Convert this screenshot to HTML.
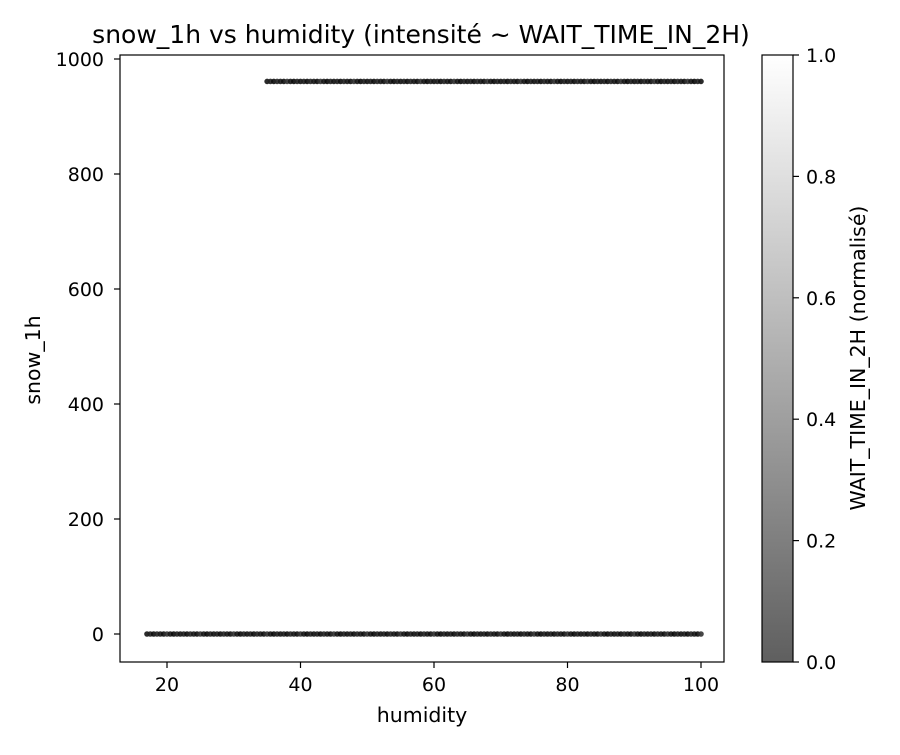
<!DOCTYPE html>
<html><head><meta charset="utf-8"><style>
body{margin:0;background:#fff;}
svg text{font-family:"DejaVu Sans","Liberation Sans",sans-serif;fill:#000;}
</style></head><body>
<svg id="chart" width="900" height="750" xmlns="http://www.w3.org/2000/svg">
<defs><linearGradient id="cb" x1="0" y1="1" x2="0" y2="0"><stop offset="0" stop-color="#5f5f5f"/><stop offset="1" stop-color="#ffffff"/></linearGradient></defs>
<rect width="900" height="750" fill="#fff"/>
<text x="421" y="43" font-size="25" text-anchor="middle">snow_1h vs humidity (intensité ~ WAIT_TIME_IN_2H)</text>
<g id="marks"></g>
<g id="axes"></g>
<rect x="120" y="55" width="604" height="607" fill="none" stroke="#000" stroke-width="1.2"/>
<text x="422" y="722" font-size="20.5" text-anchor="middle">humidity</text>
<text transform="translate(40,360) rotate(-90)" font-size="20.5" text-anchor="middle">snow_1h</text>
<rect x="762" y="55" width="31" height="607" fill="url(#cb)" stroke="#000" stroke-width="1.2"/>
<g id="cbticks"></g>
<text transform="translate(865,358) rotate(-90)" font-size="20.5" text-anchor="middle">WAIT_TIME_IN_2H (normalisé)</text>
</svg>
<script>
const xTicks=[20,40,60,80,100];
const yTicks=[0,200,400,600,800,1000];
const cbTicks=[0.0,0.2,0.4,0.6,0.8,1.0];
const bottomHumidity=[17,17.5,18,18.5,19,19.5,20,20.5,21,21.5,22,22.5,23,23.5,24,24.5,25,25.5,26,26.5,27,27.5,28,28.5,29,29.5,30,30.5,31,31.5,32,32.5,33,33.5,34,34.5,35,35.5,36,36.5,37,37.5,38,38.5,39,39.5,40,40.5,41,41.5,42,42.5,43,43.5,44,44.5,45,45.5,46,46.5,47,47.5,48,48.5,49,49.5,50,50.5,51,51.5,52,52.5,53,53.5,54,54.5,55,55.5,56,56.5,57,57.5,58,58.5,59,59.5,60,60.5,61,61.5,62,62.5,63,63.5,64,64.5,65,65.5,66,66.5,67,67.5,68,68.5,69,69.5,70,70.5,71,71.5,72,72.5,73,73.5,74,74.5,75,75.5,76,76.5,77,77.5,78,78.5,79,79.5,80,80.5,81,81.5,82,82.5,83,83.5,84,84.5,85,85.5,86,86.5,87,87.5,88,88.5,89,89.5,90,90.5,91,91.5,92,92.5,93,93.5,94,94.5,95,95.5,96,96.5,97,97.5,98,98.5,99,99.5,100];
const bottomSnow=0;
const topHumidity=[35,35.5,36,36.5,37,37.5,38,38.5,39,39.5,40,40.5,41,41.5,42,42.5,43,43.5,44,44.5,45,45.5,46,46.5,47,47.5,48,48.5,49,49.5,50,50.5,51,51.5,52,52.5,53,53.5,54,54.5,55,55.5,56,56.5,57,57.5,58,58.5,59,59.5,60,60.5,61,61.5,62,62.5,63,63.5,64,64.5,65,65.5,66,66.5,67,67.5,68,68.5,69,69.5,70,70.5,71,71.5,72,72.5,73,73.5,74,74.5,75,75.5,76,76.5,77,77.5,78,78.5,79,79.5,80,80.5,81,81.5,82,82.5,83,83.5,84,84.5,85,85.5,86,86.5,87,87.5,88,88.5,89,89.5,90,90.5,91,91.5,92,92.5,93,93.5,94,94.5,95,95.5,96,96.5,97,97.5,98,98.5,99,99.5,100];
const topSnow=961;
const intensityLevels=[0.08,0.12,0.05,0.15,0.1,0.06,0.2,0.09,0.04,0.13];
const X=v=>167+(v-20)*6.675;
const Y=v=>634-v*0.575;
const C=v=>662-v*607;
const ns="http://www.w3.org/2000/svg";
function mk(t,a,p){const e=document.createElementNS(ns,t);for(const k in a)e.setAttribute(k,a[k]);p.appendChild(e);return e;}
const marks=document.getElementById('marks'),axes=document.getElementById('axes'),cbt=document.getElementById('cbticks');
function gray(i){const g=Math.round(i*255);return `rgb(${g},${g},${g})`;}
function series(hs,s,name){hs.forEach((h,i)=>{
 const c=mk('circle',{cx:X(h),cy:Y(s),r:2.8,fill:gray(intensityLevels[i%intensityLevels.length]),'fill-opacity':0.9},marks);
 
 });}
series(bottomHumidity,bottomSnow,'point-snow-0');
series(topHumidity,topSnow,'point-snow-961');
xTicks.forEach(t=>{mk('line',{x1:X(t),x2:X(t),y1:662,y2:668,stroke:'#000','stroke-width':1.2},axes);
 const tx=mk('text',{x:X(t),y:691,'font-size':19,'text-anchor':'middle'},axes);tx.textContent=t;
 
 });
yTicks.forEach(t=>{mk('line',{x1:114,x2:120,y1:Y(t),y2:Y(t),stroke:'#000','stroke-width':1.2},axes);
 const tx=mk('text',{x:104,y:Y(t)+7,'font-size':19,'text-anchor':'end'},axes);tx.textContent=t;
 
 });
cbTicks.forEach(t=>{mk('line',{x1:793,x2:799,y1:C(t),y2:C(t),stroke:'#000','stroke-width':1.2},cbt);
 const tx=mk('text',{x:806,y:C(t)+7,'font-size':19},cbt);tx.textContent=t.toFixed(1);
 
 });
</script>
</body></html>
